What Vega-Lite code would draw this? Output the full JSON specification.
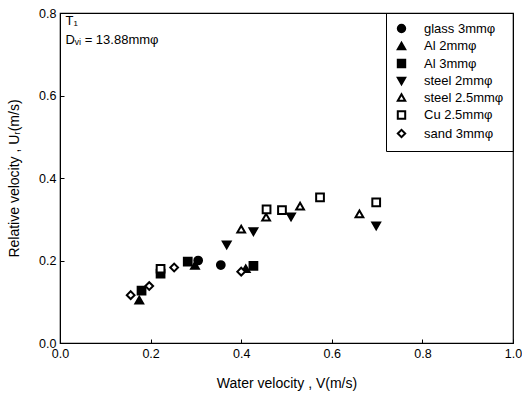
{
  "$schema": "https://vega.github.io/schema/vega-lite/v6.json",
  "width": 453,
  "height": 330,
  "autosize": {"type": "none"},
  "padding": {"left": 60, "top": 13, "right": 9, "bottom": 52},
  "config": {
    "font": "Liberation Sans",
    "view": {"stroke": "black", "strokeWidth": 1.2},
    "axis": {"labelFont": "Liberation Sans", "titleFont": "Liberation Sans", "labelColor": "black", "titleColor": "black", "domainColor": "black", "tickColor": "black", "grid": false, "labelFontSize": 12.5, "titleFontSize": 14, "titleFontWeight": "normal"}
  },
  "layer": [
    {
      "data": {"values": [
        {"v": 0.305, "u": 0.200, "m": "glass 3mmφ"},
        {"v": 0.355, "u": 0.189, "m": "glass 3mmφ"},
        {"v": 0.175, "u": 0.104, "m": "Al 2mmφ"},
        {"v": 0.298, "u": 0.188, "m": "Al 2mmφ"},
        {"v": 0.410, "u": 0.180, "m": "Al 2mmφ"},
        {"v": 0.180, "u": 0.127, "m": "Al 3mmφ"},
        {"v": 0.222, "u": 0.168, "m": "Al 3mmφ"},
        {"v": 0.282, "u": 0.197, "m": "Al 3mmφ"},
        {"v": 0.427, "u": 0.187, "m": "Al 3mmφ"},
        {"v": 0.368, "u": 0.238, "m": "steel 2mmφ"},
        {"v": 0.427, "u": 0.270, "m": "steel 2mmφ"},
        {"v": 0.510, "u": 0.306, "m": "steel 2mmφ"},
        {"v": 0.698, "u": 0.284, "m": "steel 2mmφ"},
        {"v": 0.400, "u": 0.276, "m": "steel 2.5mmφ"},
        {"v": 0.455, "u": 0.305, "m": "steel 2.5mmφ"},
        {"v": 0.530, "u": 0.332, "m": "steel 2.5mmφ"},
        {"v": 0.661, "u": 0.313, "m": "steel 2.5mmφ"},
        {"v": 0.222, "u": 0.180, "m": "Cu 2.5mmφ"},
        {"v": 0.456, "u": 0.324, "m": "Cu 2.5mmφ"},
        {"v": 0.490, "u": 0.322, "m": "Cu 2.5mmφ"},
        {"v": 0.574, "u": 0.353, "m": "Cu 2.5mmφ"},
        {"v": 0.698, "u": 0.341, "m": "Cu 2.5mmφ"},
        {"v": 0.156, "u": 0.116, "m": "sand 3mmφ"},
        {"v": 0.197, "u": 0.138, "m": "sand 3mmφ"},
        {"v": 0.252, "u": 0.183, "m": "sand 3mmφ"},
        {"v": 0.400, "u": 0.173, "m": "sand 3mmφ"}
      ]},
      "mark": {"type": "point", "size": 60, "strokeWidth": 2, "opacity": 1},
      "encoding": {
        "x": {"field": "v", "type": "quantitative", "scale": {"domain": [0, 1], "nice": false}, "axis": {"title": "Water velocity , V(m/s)", "values": [0, 0.2, 0.4, 0.6, 0.8, 1.0], "format": ".1f", "tickSize": -4, "labelPadding": 8, "titlePadding": 17, "labelFlush": false}},
        "y": {"field": "u", "type": "quantitative", "scale": {"domain": [0, 0.8], "nice": false}, "axis": {"title": "Relative velocity , Uᵣ(m/s)", "values": [0, 0.2, 0.4, 0.6, 0.8], "format": ".1f", "tickSize": -4, "labelPadding": 8, "titlePadding": 17, "labelFlush": false}},
        "shape": {"field": "m", "type": "nominal", "scale": {"domain": ["glass 3mmφ", "Al 2mmφ", "Al 3mmφ", "steel 2mmφ", "steel 2.5mmφ", "Cu 2.5mmφ", "sand 3mmφ"], "range": ["circle", "triangle-up", "square", "triangle-down", "triangle-up", "square", "diamond"]}, "legend": {"title": null, "orient": "top-right", "offset": 0, "strokeColor": "black", "padding": 9, "labelFontSize": 13, "labelFont": "Liberation Sans", "labelColor": "black", "symbolSize": 55, "symbolStrokeWidth": 2, "rowPadding": 1.5, "labelOffset": 16}},
        "fill": {"field": "m", "type": "nominal", "scale": {"domain": ["glass 3mmφ", "Al 2mmφ", "Al 3mmφ", "steel 2mmφ", "steel 2.5mmφ", "Cu 2.5mmφ", "sand 3mmφ"], "range": ["black", "black", "black", "black", "white", "white", "white"]}},
        "stroke": {"field": "m", "type": "nominal", "scale": {"domain": ["glass 3mmφ", "Al 2mmφ", "Al 3mmφ", "steel 2mmφ", "steel 2.5mmφ", "Cu 2.5mmφ", "sand 3mmφ"], "range": ["black", "black", "black", "black", "black", "black", "black"]}}
      }
    },
    {
      "data": {"values": [
        {"v": 0.012, "u": 0.78, "t": "T₁"},
        {"v": 0.012, "u": 0.735, "t": "Dᵥᵢ = 13.88mmφ"}
      ]},
      "mark": {"type": "text", "align": "left", "baseline": "middle", "fontSize": 13, "font": "Liberation Sans", "color": "black"},
      "encoding": {
        "x": {"field": "v", "type": "quantitative"},
        "y": {"field": "u", "type": "quantitative"},
        "text": {"field": "t"}
      }
    }
  ]
}
